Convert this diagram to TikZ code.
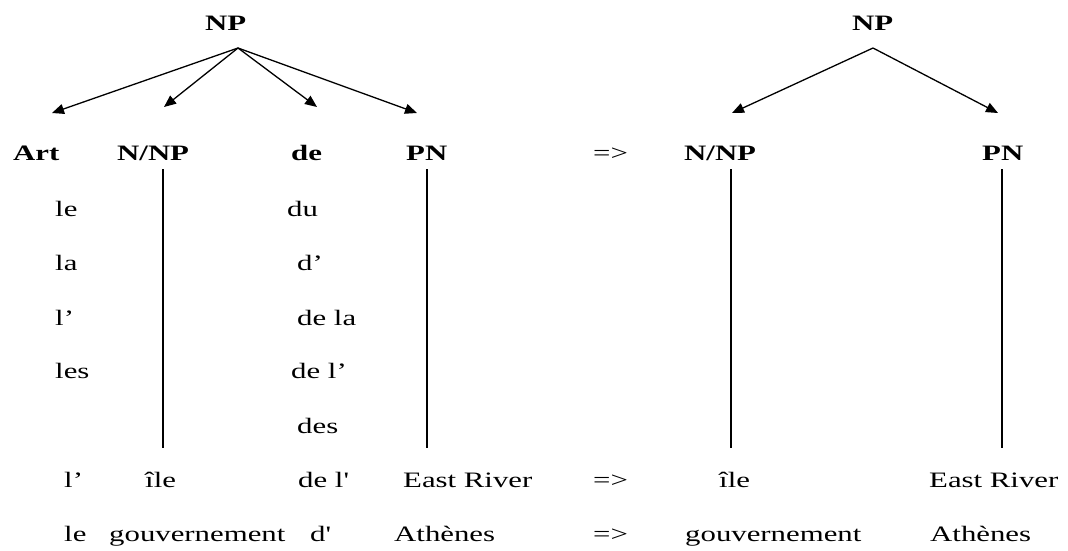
\documentclass[tikz,border=0pt]{standalone}
\usepackage{fontspec}
\newfontfamily\treefont{Liberation Serif}[FakeStretch=1.4,Ligatures=TeXOff]
\usepackage{tikz}
\usetikzlibrary{arrows.meta,positioning}

\tikzset{
  wd/.style={anchor=base west, inner sep=0pt, font={\treefont\fontsize{22}{26}\selectfont}},
  cat/.style={wd, font={\treefont\bfseries\fontsize{22}{26}\selectfont}},
  branch/.style={black, line width=1.3pt, -{Triangle[length=12pt,width=10pt]}},
  stem/.style={black, line width=1.3pt}
}

\begin{document}
\begin{tikzpicture}[x=1pt,y=-1pt]
\useasboundingbox (0,0) rectangle (1068,550);
% left tree
\node[cat] (npL) at (205,30) {NP};
\node[cat] (art) at (13,160) {Art};
\node[cat] (nnpL) at (117,160) {N/NP};
\node[cat] (deL) at (291,160) {de};
\node[cat] (pnL) at (406,160) {PN};
\node[wd] (art1) at (55,216) {le};
\node[wd] (art2) at (55,270) {la};
\node[wd] (art3) at (55,325) {l’};
\node[wd] (art4) at (55,378) {les};
\node[wd] (de1) at (287,216) {du};
\node[wd] (de2) at (297,270) {d’};
\node[wd] (de3) at (297,325) {de la};
\node[wd] (de4) at (291,378) {de l’};
\node[wd] (de5) at (297,433) {des};
\node[wd] (artA) at (64,487) {l’};
\node[wd] (nA) at (145,487) {île};
\node[wd] (deA) at (298,487) {de l'};
\node[wd] (pnA) at (403,487) {East River};
\node[wd] (artB) at (64,541) {le};
\node[wd] (nB) at (109,541) {gouvernement};
\node[wd] (deB) at (310,541) {d'};
\node[wd] (pnB) at (394,541) {Athènes};
% arrows between the two trees
\node[wd] (to0) at (593,160) {=>};
\node[wd] (toA) at (593,487) {=>};
\node[wd] (toB) at (593,541) {=>};
% right tree
\node[cat] (npR) at (852,30) {NP};
\node[cat] (nnpR) at (684,160) {N/NP};
\node[cat] (pnR) at (982,160) {PN};
\node[wd] (nRA) at (719,487) {île};
\node[wd] (pnRA) at (929,487) {East River};
\node[wd] (nRB) at (685,541) {gouvernement};
\node[wd] (pnRB) at (930,541) {Athènes};

\coordinate (rootL) at (238,48);
\coordinate (tipArt) at (52,113);
\coordinate (tipNL) at (164,107);
\coordinate (tipDe) at (317,107);
\coordinate (tipPL) at (417,113);
\coordinate (rootR) at (873,48);
\coordinate (tipNR) at (732,113);
\coordinate (tipPR) at (998,113);

\draw[branch] (rootL) -- (tipArt);
\draw[branch] (rootL) -- (tipNL);
\draw[branch] (rootL) -- (tipDe);
\draw[branch] (rootL) -- (tipPL);
\draw[branch] (rootR) -- (tipNR);
\draw[branch] (rootR) -- (tipPR);

\coordinate (nLtop) at (163,169);  \coordinate (nLbot) at (163,448);
\coordinate (pLtop) at (427,169);  \coordinate (pLbot) at (427,448);
\coordinate (nRtop) at (731,169);  \coordinate (nRbot) at (731,448);
\coordinate (pRtop) at (1002,169); \coordinate (pRbot) at (1002,448);
\draw[stem] (nLtop) -- (nLbot);
\draw[stem] (pLtop) -- (pLbot);
\draw[stem] (nRtop) -- (nRbot);
\draw[stem] (pRtop) -- (pRbot);
\end{tikzpicture}
\end{document}
